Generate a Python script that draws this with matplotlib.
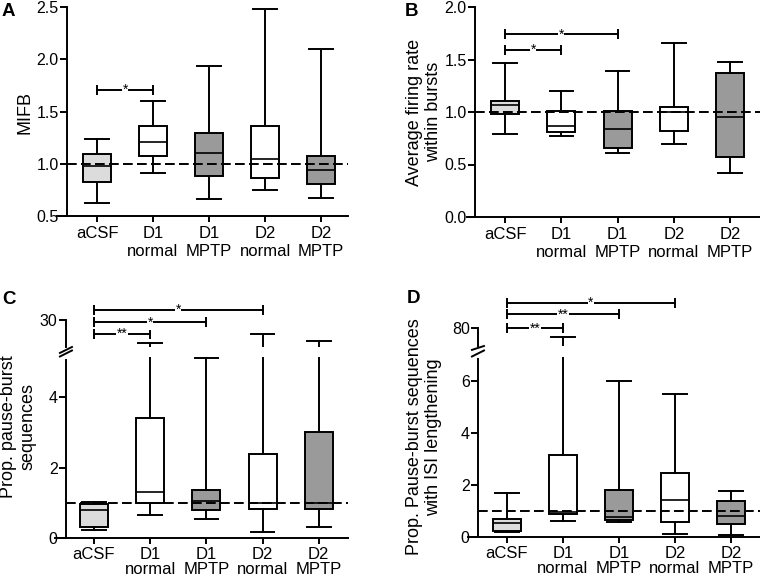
import matplotlib
matplotlib.use("Agg")
import matplotlib.pyplot as plt
from matplotlib.transforms import blended_transform_factory

plt.rcParams['font.family'] = ['Liberation Sans', 'DejaVu Sans']

W, H = 760, 578

categories = ["aCSF", "D1\nnormal", "D1\nMPTP", "D2\nnormal", "D2\nMPTP"]
box_colors = ["#dcdcdc", "white", "#9a9a9a", "white", "#9a9a9a"]

# Panel A: MIFB
a_whislo = [0.62, 0.91, 0.66, 0.75, 0.67]
a_q1 = [0.83, 1.07, 0.88, 0.86, 0.81]
a_med = [0.98, 1.21, 1.10, 1.05, 0.94]
a_q3 = [1.09, 1.36, 1.29, 1.36, 1.07]
a_whishi = [1.24, 1.60, 1.94, 2.48, 2.10]
a_sig = [(0, 1, "*", 1.71)]

# Panel B: average firing rate within bursts
b_whislo = [0.79, 0.77, 0.61, 0.70, 0.42]
b_q1 = [0.98, 0.81, 0.66, 0.82, 0.57]
b_med = [1.07, 0.87, 0.84, 1.00, 0.95]
b_q3 = [1.10, 1.01, 1.01, 1.05, 1.37]
b_whishi = [1.47, 1.20, 1.39, 1.66, 1.48]
b_sig = [(0, 1, "*", 1.59), (0, 2, "*", 1.74)]

# Panel C: prop. pause-burst sequences
c_whislo = [0.24, 0.65, 0.55, 0.17, 0.33]
c_q1 = [0.33, 1.00, 0.80, 0.83, 0.84]
c_med = [0.80, 1.30, 1.06, 1.00, 1.00]
c_q3 = [0.97, 3.42, 1.36, 2.39, 3.01]
c_whishi = [1.03, 22.4, 5.12, 25.2, 23.0]
c_sig = [(0, 1, "**", 25.3), (0, 2, "*", 29.2), (0, 3, "*", 33.3)]

# Panel D: prop. pause-burst sequences with ISI lengthening
d_whislo = [0.19, 0.63, 0.58, 0.13, 0.10]
d_q1 = [0.25, 0.88, 0.66, 0.58, 0.51]
d_med = [0.56, 0.98, 0.79, 1.43, 0.82]
d_q3 = [0.72, 3.16, 1.83, 2.46, 1.41]
d_whishi = [1.71, 77.2, 6.02, 5.50, 1.79]
d_sig = [(0, 1, "**", 80.0), (0, 2, "**", 84.7), (0, 3, "*", 88.5)]

LW = 1.4
fig = plt.figure(figsize=(W / 100, H / 100), dpi=100)
fig.patch.set_facecolor("white")


def add_ax(x0, x1, ytop, ybot):
    return fig.add_axes([x0 / W, 1 - ybot / H, (x1 - x0) / W, (ybot - ytop) / H])


def draw_boxes(ax, whislo, q1, med, q3, whishi):
    stats = []
    for i in range(len(categories)):
        stats.append(dict(med=med[i], q1=q1[i], q3=q3[i], whislo=whislo[i],
                          whishi=whishi[i], fliers=[], label=categories[i]))
    pos = list(range(1, len(categories) + 1))
    bp = ax.bxp(stats, positions=pos, widths=0.5, capwidths=0.42,
                showfliers=False, patch_artist=True,
                boxprops=dict(linewidth=LW, edgecolor="black"),
                whiskerprops=dict(linewidth=LW, color="black"),
                capprops=dict(linewidth=LW, color="black"),
                medianprops=dict(linewidth=1.2, color="black"))
    for patch, col in zip(bp["boxes"], box_colors):
        patch.set_facecolor(col)
    return pos


def style_ax(ax, xl, spine_x, xr, xpad=3.5):
    ax.set_xlim(xl, xr)
    ax.spines["top"].set_visible(False)
    ax.spines["right"].set_visible(False)
    ax.spines["left"].set_position(("data", spine_x))
    for s in ["left", "bottom"]:
        ax.spines[s].set_linewidth(LW)
    ax.tick_params(axis="y", length=5, width=LW, labelsize=11.5, pad=1)
    ax.tick_params(axis="x", length=4, width=LW, labelsize=12, pad=xpad)
    ax.set_facecolor("none")


def dashed(ax, spine_x, xr):
    ax.plot([spine_x, xr], [1.0, 1.0], color="black", lw=LW,
            dashes=(5, 2.2), zorder=5)


def sig_bars(ax, pos, sig):
    for i0, i1, star, y in sig:
        x0, x1 = pos[i0], pos[i1]
        ax.plot([x0, x1], [y, y], color="black", lw=LW, clip_on=False, zorder=6)
        ax.plot([x0, x1], [y, y], ls="none", marker="|", ms=7, mew=LW,
                color="black", clip_on=False, zorder=6)
        ax.text((x0 + x1) / 2, y, star, ha="center", va="center", fontsize=10,
                clip_on=False, zorder=7,
                bbox=dict(facecolor="white", edgecolor="none", pad=0.3))


def set_xlabels(ax, pos, spacing):
    ax.set_xticks(pos)
    ax.set_xticklabels(categories)
    for lab in ax.get_xticklabels():
        lab.set_linespacing(spacing)


def simple_panel(x0, x1, ytop, ybot, xl, sx, xr, ylim, yticks, ytl, data, sig):
    ax = add_ax(x0, x1, ytop, ybot)
    pos = draw_boxes(ax, *data)
    style_ax(ax, xl, sx, xr)
    ax.set_ylim(*ylim)
    ax.set_yticks(yticks)
    ax.set_yticklabels(ytl)
    set_xlabels(ax, pos, 1.2)
    dashed(ax, sx, xr)
    sig_bars(ax, pos, sig)
    return ax


def broken_panel(x0, x1, up_top, up_bot, lo_top, lo_bot, xl, sx, xr,
                 up_lim, up_ticks, lo_lim, lo_bound, lo_ticks, data, sig):
    axl = add_ax(x0, x1, lo_top, lo_bot)
    axu = add_ax(x0, x1, up_top, up_bot)
    pos = draw_boxes(axl, *data)
    draw_boxes(axu, *data)
    style_ax(axl, xl, sx, xr, xpad=2.5)
    style_ax(axu, xl, sx, xr)
    axl.set_ylim(*lo_lim)
    axl.spines["left"].set_bounds(lo_lim[0], lo_bound)
    axl.set_yticks(lo_ticks)
    axl.set_yticklabels([str(t) for t in lo_ticks])
    set_xlabels(axl, pos, 0.95)
    axu.set_ylim(*up_lim)
    axu.set_yticks(up_ticks)
    axu.set_yticklabels([str(t) for t in up_ticks])
    axu.spines["bottom"].set_visible(False)
    axu.set_xticks([])
    dashed(axl, sx, xr)
    sig_bars(axu, pos, sig)
    # break marks on the y axis
    kw = dict(color="black", lw=LW, clip_on=False)
    xpx = (x1 - x0) / (xr - xl)
    dx = 6 / xpx
    tu = blended_transform_factory(axu.transData, axu.transAxes)
    axu.plot([sx - dx, sx + dx], [-0.22, 0.0], transform=tu, **kw)
    tl = blended_transform_factory(axl.transData, axl.transAxes)
    axl.plot([sx - dx, sx + dx], [1.0, 1.0 + 6 / (lo_bot - lo_top)],
             transform=tl, **kw)
    return axl, axu


# Panel A
simple_panel(57, 348, 7, 216, 0.286, 0.464, 5.48, (0.5, 2.5),
             [0.5, 1.0, 1.5, 2.0, 2.5], ["0.5", "1.0", "1.5", "2.0", "2.5"],
             (a_whislo, a_q1, a_med, a_q3, a_whishi), a_sig)
# Panel B
simple_panel(467, 760, 7, 217, 0.324, 0.467, 5.53, (0.0, 2.0),
             [0.0, 0.5, 1.0, 1.5, 2.0], ["0.0", "0.5", "1.0", "1.5", "2.0"],
             (b_whislo, b_q1, b_med, b_q3, b_whishi), b_sig)
# Panel C
broken_panel(55, 348, 320, 347, 356.5, 538.3, 0.307, 0.502, 5.52,
             (21, 30), [30], (0, 5.15), 5.05, [0, 2, 4],
             (c_whislo, c_q1, c_med, c_q3, c_whishi), c_sig)
# Panel D
broken_panel(468, 760, 328.3, 346, 356.5, 537.3, 0.304, 0.482, 5.52,
             (74, 80), [80], (0, 6.95), 6.84, [0, 2, 4, 6],
             (d_whislo, d_q1, d_med, d_q3, d_whishi), d_sig)


def ylab(x, y, s):
    fig.text(x / W, 1 - y / H, s, rotation=90, ha="center", va="center",
             fontsize=13, multialignment="center")


ylab(25, 112, "MIFB")
ylab(424, 112, "Average firing rate\nwithin bursts")
ylab(18, 427, "Prop. pause-burst\nsequences")
ylab(424, 437, "Prop. Pause-burst sequences\nwith ISI lengthening")

for x, y, s in [(2, 3, "A"), (405, 3, "B"), (2, 291, "C"), (407, 290, "D")]:
    fig.text(x / W, 1 - y / H, s, ha="left", va="top", fontsize=13.5,
             fontweight="bold")

fig.savefig("out.png", dpi=100, facecolor="white")
